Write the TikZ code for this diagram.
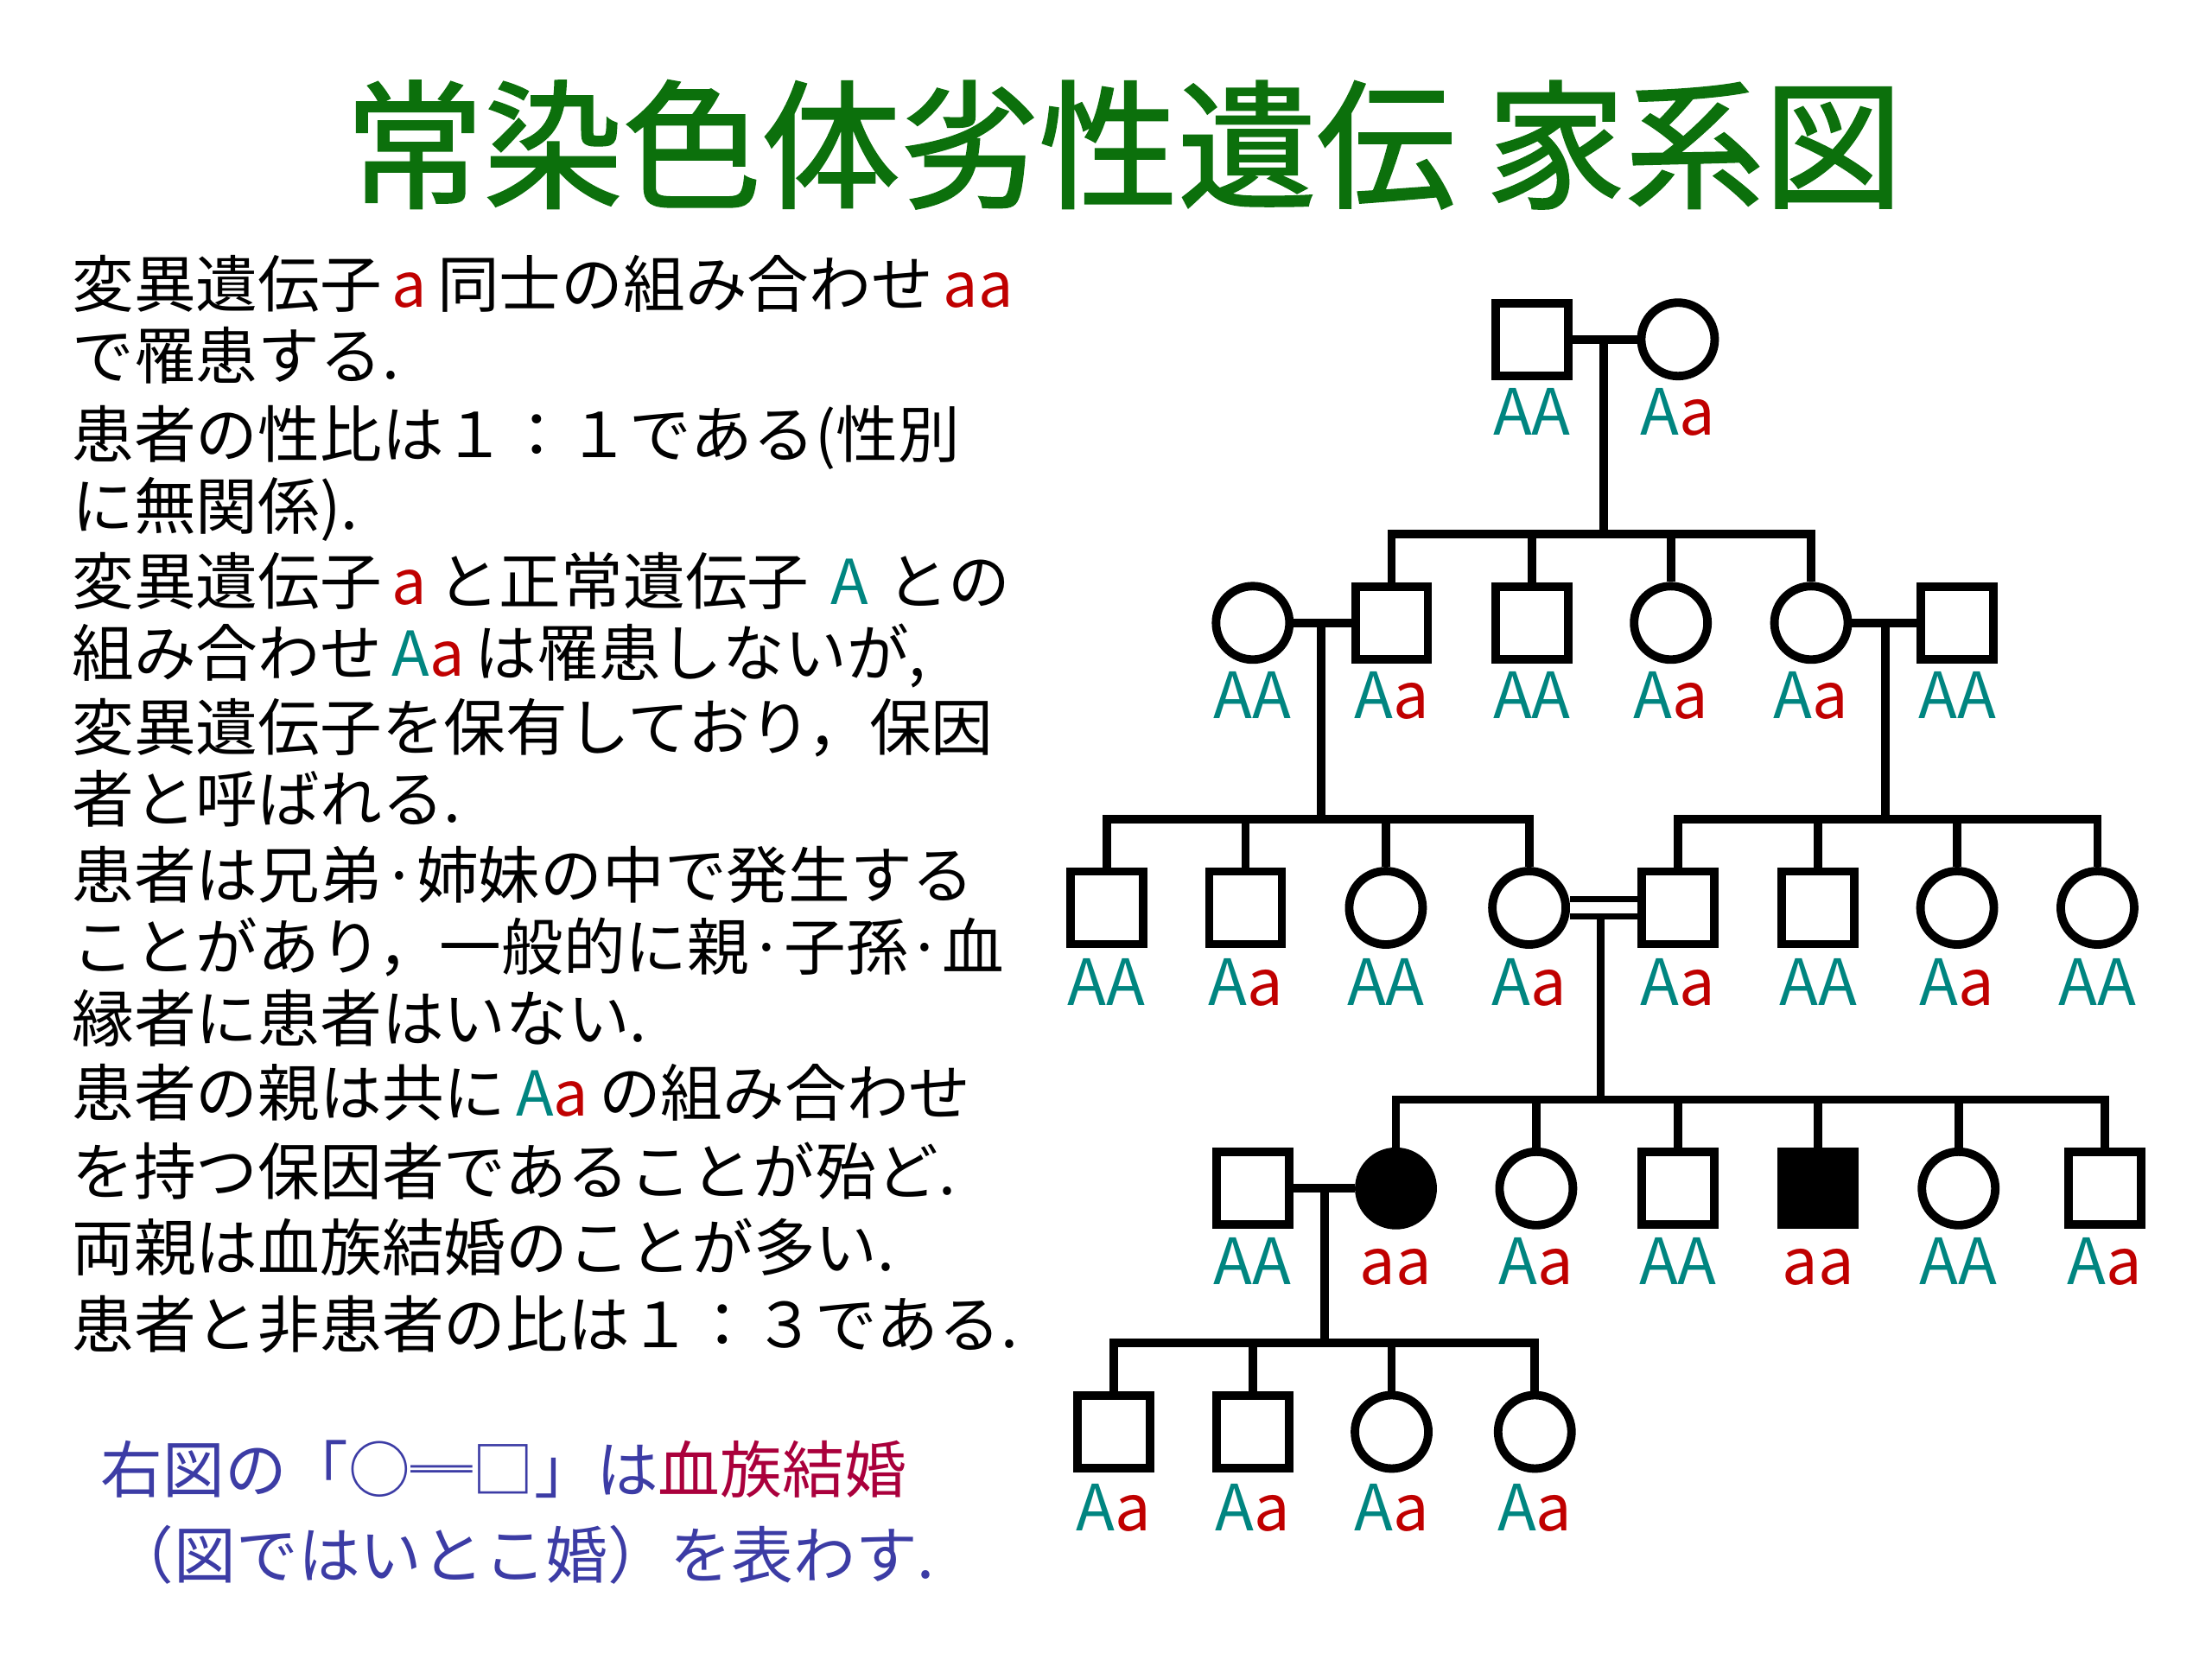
\documentclass[tikz,border=0pt]{standalone}
\usepackage{fontspec}
\setmainfont{Noto Sans CJK JP}
\newfontfamily\titlefont[FakeBold=1.5]{Noto Sans CJK JP}
\definecolor{tgreen}{RGB}{12,112,12}
\definecolor{gA}{RGB}{0,133,128}
\definecolor{ga}{RGB}{192,0,0}
\definecolor{bl}{RGB}{60,60,165}
\definecolor{crim}{RGB}{170,0,60}
\newcommand\uA{\textcolor{gA}{A}}
\newcommand\la{\textcolor{ga}{a}}
\tikzset{
  ln/.style={line width=2.8pt},
  male/.style={draw, line width=2.8pt, rectangle, minimum size=0.84cm, inner sep=0},
  fem/.style={draw, line width=2.8pt, circle, minimum size=0.85cm, inner sep=0},
  aff/.style={fill=black},
  gt/.style={font=\fontsize{21}{24}\selectfont, inner sep=0, text height=0.75em, text depth=0pt},
  body/.style={anchor=west, font=\fontsize{20.4}{24}\selectfont, inner sep=0, text height=0.85em, text depth=0.15em},
  blue/.style={body, text=bl}
}
\begin{document}
\begin{tikzpicture}[x=0.01657cm, y=-0.01657cm]
\fill[white] (0,0) rectangle (1545,1159);
\useasboundingbox (0,0) rectangle (1545,1159);
% title
\node[font=\titlefont\fontsize{45.7}{54}\selectfont, text=tgreen, inner sep=0] (title) at (785,101) {常染色体劣性遺伝 家系図};
% body text
\node[body] (t1) at (50,207) {変異遺伝子\,\la\,同士の組み合わせ\,\la\la};
\node[body] (t2) at (50,257) {で罹患する.};
\node[body] (t3) at (50,312) {患者の性比は１：１である(性別};
\node[body] (t4) at (50,362) {に無関係).};
\node[body] (t5) at (50,415) {変異遺伝子\,\la\,と正常遺伝子\hspace{0.35em}\uA\hspace{0.3em}との};
\node[body] (t6) at (50,465) {組み合わせ\,\uA\la\,は罹患しないが,};
\node[body] (t7) at (50,517) {変異遺伝子を保有しており，保因};
\node[body] (t8) at (50,567) {者と呼ばれる.};
\node[body] (t9) at (50,620) {患者は兄弟·姉妹の中で発生する};
\node[body] (t10) at (50,670) {ことがあり，一般的に親·子孫·血};
\node[body] (t11) at (50,720) {縁者に患者はいない.};
\node[body] (t12) at (50,772) {患者の親は共に\,\uA\la\,の組み合わせ};
\node[body] (t13) at (50,827) {を持つ保因者であることが殆ど.};
\node[body] (t14) at (50,880) {両親は血族結婚のことが多い.};
\node[body] (t15) at (50,934) {患者と非患者の比は１：３である.};
\node[blue] (b1) at (70,1035) {右図の「○═□」は\textcolor{crim}{血族結婚}};
\node[blue] (b2) at (78,1095) {（図ではいとこ婚）を表わす.};
% Generation I
\node[male] (i1) at (1070,237) {};
\node[fem] (i2) at (1172,237) {};
\draw[ln] (i1) -- (i2);
\coordinate (c1) at (1120,237);
\coordinate (s1) at (1120,373);
\draw[ln] (c1) -- (s1);
\node[gt] (i1g) at (1070,296) {\uA\uA};
\node[gt] (i2g) at (1172,296) {\uA\la};
% Generation II
\node[fem] (ii1) at (875,435) {};
\node[male] (ii2) at (972,435) {};
\node[male] (ii3) at (1070,435) {};
\node[fem] (ii4) at (1167,435) {};
\node[fem] (ii5) at (1265,435) {};
\node[male] (ii6) at (1367,435) {};
\draw[ln] (ii2.north) -- (ii2.north |- s1) -- (ii5.north |- s1) -- (ii5.north);
\draw[ln] (ii3.north) -- (ii3.north |- s1);
\draw[ln] (ii4.north) -- (ii4.north |- s1);
\draw[ln] (ii1) -- (ii2);
\draw[ln] (ii5) -- (ii6);
\coordinate (c2) at (923,435);
\coordinate (s2) at (923,572);
\coordinate (c3) at (1317,435);
\coordinate (s3) at (1317,572);
\draw[ln] (c2) -- (s2);
\draw[ln] (c3) -- (s3);
\node[gt] (ii1g) at (875,494) {\uA\uA};
\node[gt] (ii2g) at (972,494) {\uA\la};
\node[gt] (ii3g) at (1070,494) {\uA\uA};
\node[gt] (ii4g) at (1167,494) {\uA\la};
\node[gt] (ii5g) at (1265,494) {\uA\la};
\node[gt] (ii6g) at (1367,494) {\uA\uA};
% Generation III
\node[male] (iii1) at (773,634) {};
\node[male] (iii2) at (870,634) {};
\node[fem] (iii3) at (968,634) {};
\node[fem] (iii4) at (1068,634) {};
\node[male] (iii5) at (1172,634) {};
\node[male] (iii6) at (1270,634) {};
\node[fem] (iii7) at (1367,634) {};
\node[fem] (iii8) at (1465,634) {};
\draw[ln] (iii1.north) -- (iii1.north |- s2) -- (iii4.north |- s2) -- (iii4.north);
\draw[ln] (iii2.north) -- (iii2.north |- s2);
\draw[ln] (iii3.north) -- (iii3.north |- s2);
\draw[ln] (iii5.north) -- (iii5.north |- s3) -- (iii8.north |- s3) -- (iii8.north);
\draw[ln] (iii6.north) -- (iii6.north |- s3);
\draw[ln] (iii7.north) -- (iii7.north |- s3);
\draw[double, double distance=3.6pt, line width=2pt] (iii4) -- (iii5);
\coordinate (c4) at (1118,640);
\coordinate (s4) at (1118,768);
\draw[ln] (c4) -- (s4);
\node[gt] (iii1g) at (773,694) {\uA\uA};
\node[gt] (iii2g) at (870,694) {\uA\la};
\node[gt] (iii3g) at (968,694) {\uA\uA};
\node[gt] (iii4g) at (1068,694) {\uA\la};
\node[gt] (iii5g) at (1172,694) {\uA\la};
\node[gt] (iii6g) at (1270,694) {\uA\uA};
\node[gt] (iii7g) at (1367,694) {\uA\la};
\node[gt] (iii8g) at (1465,694) {\uA\uA};
% Generation IV
\node[male] (iv1) at (875,830) {};
\node[fem, aff] (iv2) at (975,830) {};
\node[fem] (iv3) at (1073,830) {};
\node[male] (iv4) at (1172,830) {};
\node[male, aff] (iv5) at (1270,830) {};
\node[fem] (iv6) at (1368,830) {};
\node[male] (iv7) at (1470,830) {};
\draw[ln] (iv2.north) -- (iv2.north |- s4) -- (iv7.north |- s4) -- (iv7.north);
\draw[ln] (iv3.north) -- (iv3.north |- s4);
\draw[ln] (iv4.north) -- (iv4.north |- s4);
\draw[ln] (iv5.north) -- (iv5.north |- s4);
\draw[ln] (iv6.north) -- (iv6.north |- s4);
\draw[ln] (iv1) -- (iv2);
\coordinate (c5) at (925,830);
\coordinate (s5) at (925,938);
\draw[ln] (c5) -- (s5);
\node[gt] (iv1g) at (875,889) {\uA\uA};
\node[gt] (iv2g) at (975,889) {\la\la};
\node[gt] (iv3g) at (1073,889) {\uA\la};
\node[gt] (iv4g) at (1172,889) {\uA\uA};
\node[gt] (iv5g) at (1270,889) {\la\la};
\node[gt] (iv6g) at (1368,889) {\uA\uA};
\node[gt] (iv7g) at (1470,889) {\uA\la};
% Generation V
\node[male] (v1) at (778,1000) {};
\node[male] (v2) at (875,1000) {};
\node[fem] (v3) at (972,1000) {};
\node[fem] (v4) at (1072,1000) {};
\draw[ln] (v1.north) -- (v1.north |- s5) -- (v4.north |- s5) -- (v4.north);
\draw[ln] (v2.north) -- (v2.north |- s5);
\draw[ln] (v3.north) -- (v3.north |- s5);
\node[gt] (v1g) at (778,1061) {\uA\la};
\node[gt] (v2g) at (875,1061) {\uA\la};
\node[gt] (v3g) at (972,1061) {\uA\la};
\node[gt] (v4g) at (1072,1061) {\uA\la};
\end{tikzpicture}
\end{document}
